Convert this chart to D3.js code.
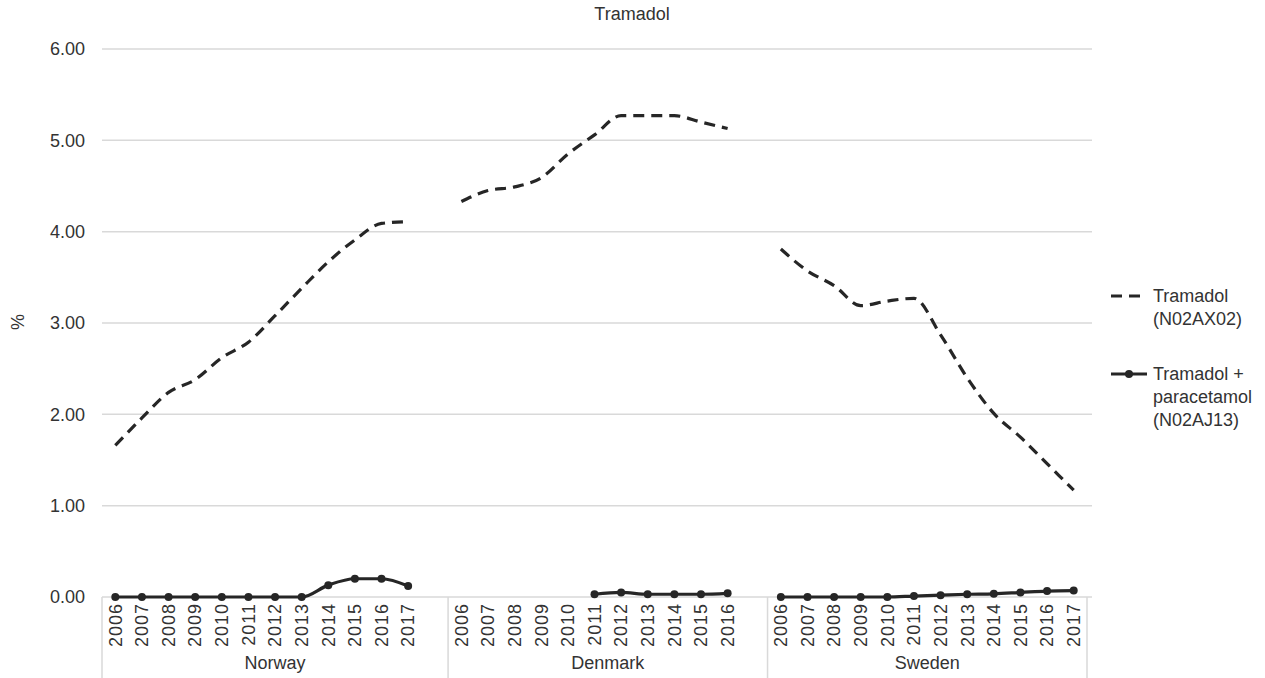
<!DOCTYPE html>
<html>
<head>
<meta charset="utf-8">
<script src="https://cdn.jsdelivr.net/npm/d3@7"></script>
<style>
  html, body { margin: 0; padding: 0; background: #fff; }
  svg { display: block; font-family: "Liberation Sans", Arial, sans-serif; }
</style>
</head>
<body>
<svg id="chart" width="1265" height="678"></svg>
<script>
// ---- Data ----
const title = "Tramadol";
const yLabel = "%";
const countries = ["Norway", "Denmark", "Sweden"];
const norwayYears  = ["2006","2007","2008","2009","2010","2011","2012","2013","2014","2015","2016","2017",""];
const denmarkYears = ["2006","2007","2008","2009","2010","2011","2012","2013","2014","2015","2016",""];
const swedenYears  = ["2006","2007","2008","2009","2010","2011","2012","2013","2014","2015","2016","2017"];
const yTicks = [0, 1, 2, 3, 4, 5, 6];
const seriesNames = ["Tramadol\n(N02AX02)", "Tramadol +\nparacetamol\n(N02AJ13)"];

// Tramadol (N02AX02)
const tramadolNorway  = [1.66, 1.96, 2.24, 2.38, 2.62, 2.79, 3.08, 3.38, 3.67, 3.91, 4.09, 4.11];
const tramadolDenmark = [4.33, 4.45, 4.49, 4.59, 4.85, 5.06, 5.27, 5.27, 5.27, 5.20, 5.13];
const tramadolSweden  = [3.81, 3.57, 3.41, 3.19, 3.24, 3.27, 2.87, 2.40, 2.01, 1.75, 1.46, 1.17];
// Tramadol + paracetamol (N02AJ13)
const comboNorway  = [0, 0, 0, 0, 0, 0, 0, 0, 0.13, 0.20, 0.20, 0.12];
const comboDenmark = [null, null, null, null, null, 0.03, 0.05, 0.03, 0.03, 0.03, 0.04];
const comboSweden  = [0, 0, 0, 0, 0, 0.01, 0.02, 0.03, 0.035, 0.05, 0.065, 0.07];

// ---- Build category keys ----
const groupYears = { Norway: norwayYears, Denmark: denmarkYears, Sweden: swedenYears };
const tramadolByCountry = { Norway: tramadolNorway, Denmark: tramadolDenmark, Sweden: tramadolSweden };
const comboByCountry = { Norway: comboNorway, Denmark: comboDenmark, Sweden: comboSweden };
const keys = [];
countries.forEach(c => groupYears[c].forEach((y, i) => keys.push(c + "|" + i)));

// ---- Layout ----
const svg = d3.select("#chart");
const plotLeft = 102, plotRight = 1087, plotTop = 49, plotBottom = 597;
const textColor = "#333333";
const lineColor = "#262626";
const gridColor = "#d9d9d9";

const x = d3.scaleBand().domain(keys).range([plotLeft, plotRight]).padding(0);
const y = d3.scaleLinear().domain([0, 6]).range([plotBottom, plotTop]);

// Title
svg.append("text")
  .attr("x", 632).attr("y", 20)
  .attr("text-anchor", "middle")
  .attr("font-size", 18).attr("fill", textColor)
  .text(title);

// Gridlines
svg.append("g").selectAll("line")
  .data(yTicks.filter(d => d > 0))
  .join("line")
  .attr("x1", plotLeft).attr("x2", plotRight + 5)
  .attr("y1", d => y(d)).attr("y2", d => y(d))
  .attr("stroke", gridColor).attr("stroke-width", 1.5);

// Y axis labels
const yAxis = d3.axisLeft(y).tickValues(yTicks).tickFormat(d3.format(".2f")).tickSize(0).tickPadding(17);
const yg = svg.append("g").attr("transform", `translate(${plotLeft},0)`).call(yAxis);
yg.select(".domain").remove();
yg.selectAll("text").attr("font-size", 18).attr("fill", textColor)
  .attr("font-family", "Liberation Sans, Arial, sans-serif");

// Y label
svg.append("text")
  .attr("transform", `translate(24,322) rotate(-90)`)
  .attr("text-anchor", "middle")
  .attr("font-size", 18).attr("fill", textColor)
  .text(yLabel);

// X axis baseline
svg.append("line")
  .attr("x1", plotLeft).attr("x2", plotRight + 5)
  .attr("y1", plotBottom).attr("y2", plotBottom)
  .attr("stroke", gridColor).attr("stroke-width", 1.5);

// Group separators
const groupStarts = countries.map(c => x(c + "|0"));
const sepXs = groupStarts.concat([plotRight]);
svg.append("g").selectAll("line")
  .data(sepXs)
  .join("line")
  .attr("x1", d => d).attr("x2", d => d)
  .attr("y1", plotBottom).attr("y2", 678)
  .attr("stroke", gridColor).attr("stroke-width", 1.5);

// Year labels
const xAxis = d3.axisBottom(x).tickSize(0).tickFormat(k => {
  const [c, i] = k.split("|");
  return groupYears[c][+i];
});
const xg = svg.append("g").attr("transform", `translate(0,${plotBottom})`).call(xAxis);
xg.select(".domain").remove();
xg.selectAll("text")
  .attr("font-size", 18).attr("fill", textColor)
  .attr("font-family", "Liberation Sans, Arial, sans-serif")
  .attr("letter-spacing", 1)
  .attr("text-anchor", "end")
  .attr("transform", "rotate(-90)")
  .attr("x", -6).attr("y", 0).attr("dy", "0.35em");

// Country labels
svg.append("g").selectAll("text")
  .data(countries)
  .join("text")
  .attr("x", (c, i) => (sepXs[i] + sepXs[i + 1]) / 2)
  .attr("y", 669)
  .attr("text-anchor", "middle")
  .attr("font-size", 18).attr("fill", textColor)
  .text(d => d);

// Lines
const cx = (c, i) => x(c + "|" + i) + x.bandwidth() / 2;
const curve = d3.curveMonotoneX;

countries.forEach(c => {
  const pts = tramadolByCountry[c].map((v, i) => ({ x: cx(c, i), v }));
  svg.append("path")
    .datum(pts)
    .attr("fill", "none")
    .attr("stroke", lineColor)
    .attr("stroke-width", 3.2)
    .attr("stroke-dasharray", "11,7")
    .attr("d", d3.line().x(d => d.x).y(d => y(d.v)).curve(curve));

  const cpts = comboByCountry[c].map((v, i) => ({ x: cx(c, i), v })).filter(d => d.v !== null);
  svg.append("path")
    .datum(cpts)
    .attr("fill", "none")
    .attr("stroke", lineColor)
    .attr("stroke-width", 3.2)
    .attr("d", d3.line().x(d => d.x).y(d => y(d.v)).curve(curve));
  svg.append("g").selectAll("circle")
    .data(cpts)
    .join("circle")
    .attr("cx", d => d.x).attr("cy", d => y(d.v))
    .attr("r", 4).attr("fill", lineColor);
});

// Legend
const legend = svg.append("g");
const legendItems = [
  { name: seriesNames[0], y: 296, dashed: true },
  { name: seriesNames[1], y: 374, dashed: false }
];
legendItems.forEach(item => {
  legend.append("line")
    .attr("x1", 1111).attr("x2", 1147)
    .attr("y1", item.y).attr("y2", item.y)
    .attr("stroke", lineColor).attr("stroke-width", 3.2)
    .attr("stroke-dasharray", item.dashed ? "11,7" : null);
  if (!item.dashed) {
    legend.append("circle").attr("cx", 1129).attr("cy", item.y).attr("r", 4).attr("fill", lineColor);
  }
  const t = legend.append("text")
    .attr("x", 1153).attr("y", item.y + 6)
    .attr("font-size", 18).attr("fill", textColor);
  item.name.split("\n").forEach((line, i) => {
    t.append("tspan").attr("x", 1153).attr("dy", i === 0 ? 0 : 23).text(line);
  });
});
</script>
</body>
</html>
